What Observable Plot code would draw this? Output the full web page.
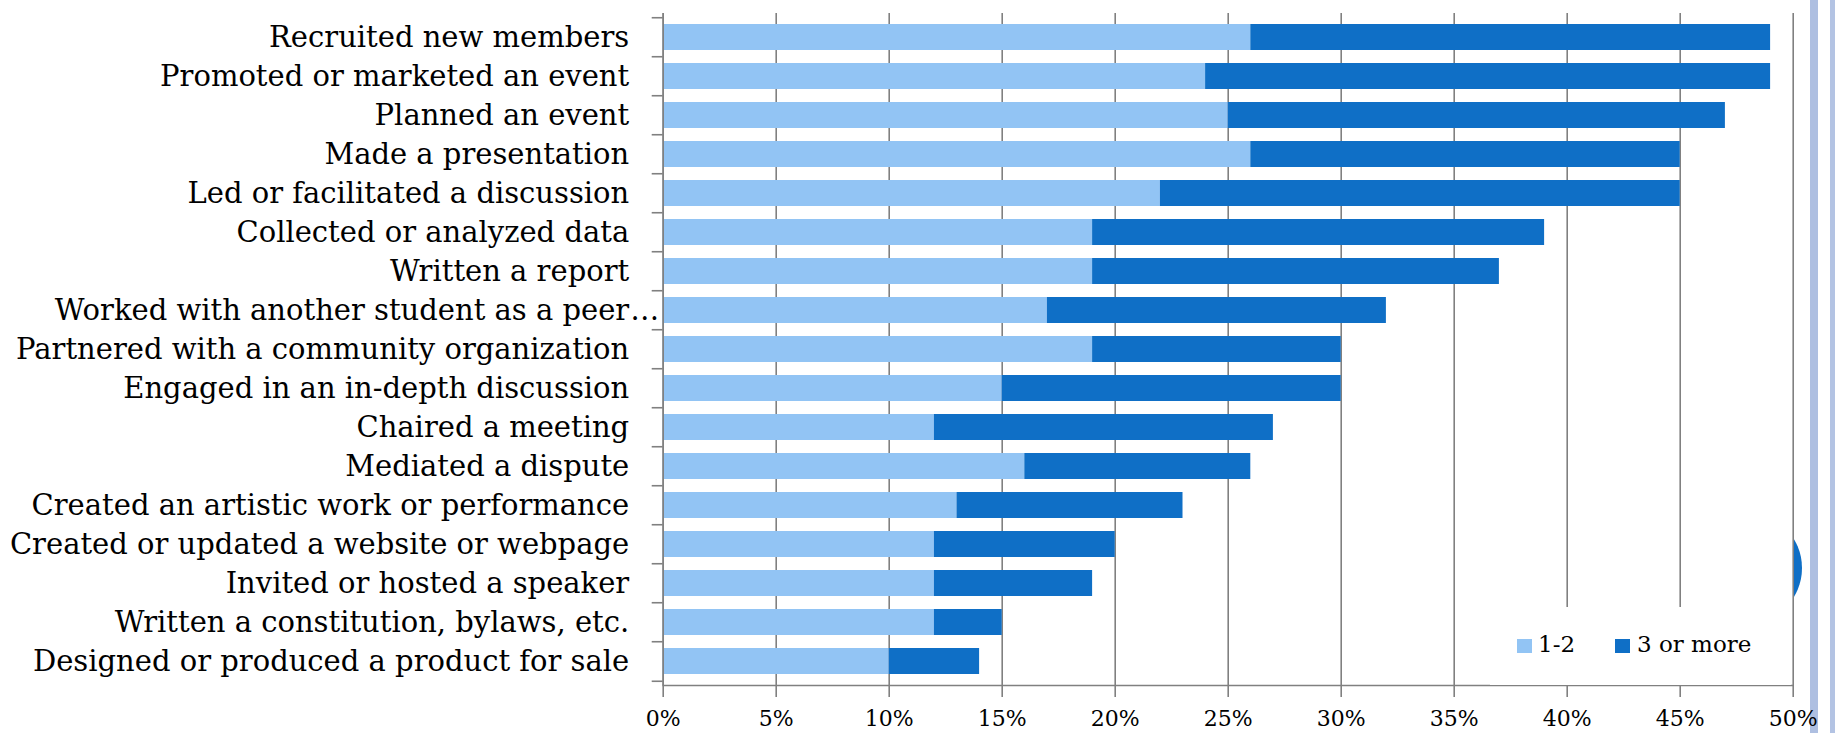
<!DOCTYPE html>
<html>
<head>
<meta charset="utf-8">
<script src="https://cdn.jsdelivr.net/npm/d3@7"></script>
<script src="https://cdn.jsdelivr.net/npm/@observablehq/plot@0.6"></script>
<style>
  html, body { margin: 0; padding: 0; background: white; }
  #wrap { position: relative; width: 1835px; height: 733px; background: white; overflow: hidden; }
  .deco { position: absolute; top: 0; height: 733px; }
  #chart { position: absolute; left: 0; top: 0; }
  #legend { position: absolute; left: 1490px; top: 607px; width: 301px; height: 78px; background: white;
            font-family: "DejaVu Serif", serif; font-size: 23px; color: #000; }
  #legend .sw { position: absolute; top: 32px; width: 15px; height: 14px; }
  #legend .lb { position: absolute; top: 26px; line-height: 23px; white-space: nowrap; }
  #arcclip { position: absolute; left: 1794px; top: 538px; width: 10px; height: 62px; overflow: hidden; }
  #arc { position: absolute; left: -104px; top: -26px; width: 112px; height: 112px; border-radius: 50%; background: #0f6fc6; }
</style>
</head>
<body>
<div id="wrap">
  <div class="deco" style="left:1810px;width:8px;background:#aebfe1;"></div>
  <div class="deco" style="left:1830px;width:5px;background:#b3c3e3;"></div>
  <div id="arcclip"><div id="arc"></div></div>
  <div id="chart"></div>
  <div id="legend"></div>
</div>
<script>
// ---- data ----
const categories = [
  "Recruited new members",
  "Promoted or marketed an event",
  "Planned an event",
  "Made a presentation",
  "Led or facilitated a discussion",
  "Collected or analyzed data",
  "Written a report",
  "Worked with another student as a peer…",
  "Partnered with a community organization",
  "Engaged in an in-depth discussion",
  "Chaired a meeting",
  "Mediated a dispute",
  "Created an artistic work or performance",
  "Created or updated a website or webpage",
  "Invited or hosted a speaker",
  "Written a constitution, bylaws, etc.",
  "Designed or produced a product for sale"
];
const oneTwo    = [26, 24, 25, 26, 22, 19, 19, 17, 19, 15, 12, 16, 13, 12, 12, 12, 10];
const threePlus = [23, 25, 22, 19, 23, 20, 18, 15, 11, 15, 15, 10, 10,  8,  7,  3,  4];
const seriesNames = ["1-2", "3 or more"];
const seriesColors = ["#92c4f4", "#0f6fc6"];
const xTicks = [0, 5, 10, 15, 20, 25, 30, 35, 40, 45, 50];

const rows = categories.flatMap((c, i) => [
  {activity: c, series: seriesNames[0], value: oneTwo[i]},
  {activity: c, series: seriesNames[1], value: threePlus[i]}
]);

// ---- layout ----
const W = 1835, H = 733;
const mL = 662.7, mR = 42.3, mT = 13, mB = 48;
const step = (H - mT - mB) / categories.length;
const font = "DejaVu Serif";
const gray = "#808080";

const chart = Plot.plot({
  width: W, height: H,
  marginLeft: mL, marginRight: mR, marginTop: mT, marginBottom: mB,
  style: {background: "transparent", fontFamily: font, color: "#000", overflow: "visible"},
  x: {domain: [0, 50]},
  y: {domain: categories, paddingInner: 0.324, paddingOuter: 0.162},
  color: {domain: seriesNames, range: seriesColors},
  marks: [
    Plot.gridX(xTicks, {stroke: gray, strokeOpacity: 1, strokeWidth: 1.6}),
    Plot.barX(rows, Plot.stackX({y: "activity", x: "value", fill: "series"})),
    Plot.ruleX([0], {stroke: gray, strokeWidth: 1.6}),
    Plot.frame({anchor: "bottom", stroke: gray, strokeWidth: 1.6}),
    Plot.axisX(xTicks, {
      tickSize: 12, tickPadding: 13, stroke: gray, strokeWidth: 1.6, strokeOpacity: 1,
      tickFormat: d => d + "%", fontSize: 22, fontFamily: font, fill: "#000", label: null
    }),
    Plot.axisY({tickSize: 11, tickFormat: () => "", dy: -step / 2, stroke: gray, strokeWidth: 1.6, strokeOpacity: 1, label: null}),
    Plot.axisY([categories[categories.length - 1]], {tickSize: 11, tickFormat: () => "", dy: step / 2, stroke: gray, strokeWidth: 1.6, strokeOpacity: 1, label: null}),
    Plot.axisY({
      tickSize: 0, tickPadding: 34, fontSize: 29, fontFamily: font, fill: "#000", label: null,
      tickFormat: d => d.replace("…", "")
    }),
    Plot.text(categories.filter(c => c.endsWith("…")), {
      y: d => d, frameAnchor: "left", textAnchor: "start", dx: -33,
      text: () => "…", fontSize: 29, fontFamily: font, fill: "#000"
    })
  ]
});
document.getElementById("chart").appendChild(chart);

// ---- legend ----
const legend = document.getElementById("legend");
const swLeft = [27, 125];
const lbLeft = [48, 147];
seriesNames.forEach((s, i) => {
  const sw = document.createElement("div");
  sw.className = "sw";
  sw.style.left = swLeft[i] + "px";
  sw.style.background = seriesColors[i];
  legend.appendChild(sw);
  const lb = document.createElement("div");
  lb.className = "lb";
  lb.style.left = lbLeft[i] + "px";
  lb.textContent = s;
  legend.appendChild(lb);
});
</script>
</body>
</html>
